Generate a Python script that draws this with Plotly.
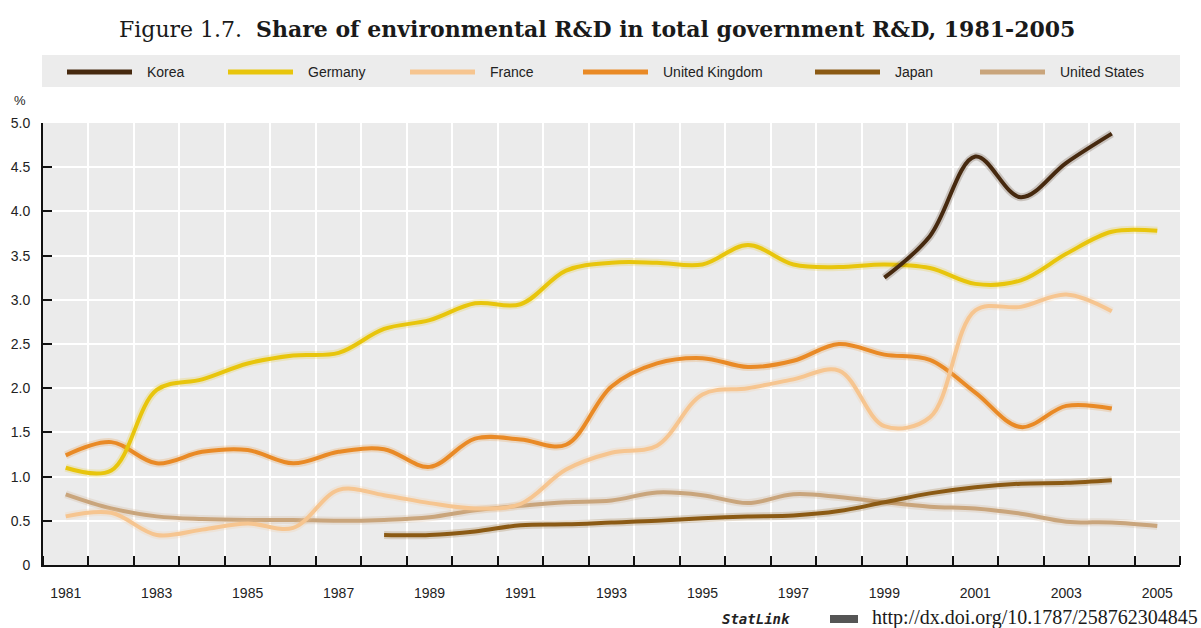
import plotly.graph_objects as go

years = list(range(1981, 2006))

korea = [None]*18 + [3.25, 3.72, 4.62, 4.16, 4.55, 4.88, None]
germany = [1.10, 1.07, 1.98, 2.10, 2.28, 2.37, 2.40, 2.67, 2.77, 2.96, 2.95, 3.33, 3.42, 3.42, 3.40, 3.62, 3.40, 3.37, 3.40, 3.36, 3.18, 3.22, 3.52, 3.77, 3.78]
france = [0.55, 0.59, 0.34, 0.40, 0.47, 0.42, 0.85, 0.79, 0.70, 0.64, 0.69, 1.08, 1.27, 1.35, 1.93, 2.00, 2.10, 2.20, 1.57, 1.67, 2.88, 2.92, 3.06, 2.87, None]
uk = [1.24, 1.39, 1.15, 1.28, 1.30, 1.15, 1.28, 1.31, 1.11, 1.43, 1.42, 1.36, 2.02, 2.28, 2.34, 2.24, 2.31, 2.50, 2.38, 2.32, 1.95, 1.56, 1.80, 1.77, None]
japan = [None]*7 + [0.34, 0.34, 0.38, 0.45, 0.46, 0.48, 0.50, 0.53, 0.55, 0.56, 0.61, 0.71, 0.81, 0.88, 0.92, 0.93, 0.96, None]
us = [0.80, 0.64, 0.55, 0.52, 0.51, 0.51, 0.50, 0.51, 0.54, 0.62, 0.67, 0.71, 0.73, 0.82, 0.79, 0.70, 0.80, 0.77, 0.71, 0.66, 0.64, 0.58, 0.49, 0.48, 0.44]

series_names = ["Korea", "Germany", "France", "United Kingdom", "Japan", "United States"]
series_values = [korea, germany, france, uk, japan, us]
series_colors = ["#46290f", "#e8c50c", "#f6c590", "#e98a26", "#8b5a14", "#c9a57c"]

x_tick_years = list(range(1981, 2006, 2))
y_tick_vals = [0, 0.5, 1.0, 1.5, 2.0, 2.5, 3.0, 3.5, 4.0, 4.5, 5.0]
y_tick_text = ["0", "0.5", "1.0", "1.5", "2.0", "2.5", "3.0", "3.5", "4.0", "4.5", "5.0"]

TEXT_FONT = "Liberation Sans Narrow, Liberation Sans, Arial, sans-serif"
SERIF = "DejaVu Serif, Liberation Serif, serif"

fig = go.Figure()

# draw from last to first so Korea is on top
for name, vals, col in reversed(list(zip(series_names, series_values, series_colors))):
    xs = [y for y, v in zip(years, vals) if v is not None]
    ys = [v for v in vals if v is not None]
    fig.add_trace(go.Scatter(x=xs, y=ys, mode="lines", showlegend=False, hoverinfo="skip",
                             line=dict(color=col, width=8, shape="spline", smoothing=1.0),
                             opacity=0.2))
    fig.add_trace(go.Scatter(x=xs, y=ys, mode="lines", name=name, showlegend=False,
                             line=dict(color=col, width=4, shape="spline", smoothing=1.0)))

L, R, T, B = 43, 21, 123, 63
W, H = 1201, 628
pw = W - L - R
ph = H - T - B

def px_x(px):
    return (px - L) / pw

def px_y(py):
    return (H - B - py) / ph

shapes = []
annotations = []

# legend band
shapes.append(dict(type="rect", xref="paper", yref="paper",
                   x0=px_x(42), x1=px_x(1180), y0=px_y(87), y1=px_y(55),
                   fillcolor="#ececec", line=dict(width=0), layer="below"))
legend_line_x = [67, 228, 410, 583, 815, 980]
for name, col, lx in zip(series_names, series_colors, legend_line_x):
    shapes.append(dict(type="line", xref="paper", yref="paper",
                       x0=px_x(lx), x1=px_x(lx + 65), y0=px_y(72), y1=px_y(72),
                       line=dict(color=col, width=5)))
    annotations.append(dict(xref="paper", yref="paper", x=px_x(lx + 78), y=px_y(72),
                            text=name, showarrow=False, xanchor="left", yanchor="middle",
                            font=dict(family=TEXT_FONT, size=14, color="#222222")))

# title
annotations.append(dict(xref="paper", yref="paper", x=px_x(597), y=px_y(29),
                        text="Figure 1.7.\u00a0 <b>Share of environmental R&amp;D in total government R&amp;D, 1981-2005</b>",
                        showarrow=False, xanchor="center", yanchor="middle",
                        font=dict(family=SERIF, size=22, color="#1a1a1a")))
# % unit
annotations.append(dict(xref="paper", yref="paper", x=px_x(20), y=px_y(101),
                        text="%", showarrow=False, xanchor="center", yanchor="middle",
                        font=dict(family=TEXT_FONT, size=13, color="#222222")))
# statlink
annotations.append(dict(xref="paper", yref="paper", x=px_x(720), y=px_y(619),
                        text="<b><i>StatLink</i></b>", showarrow=False, xanchor="left", yanchor="middle",
                        font=dict(family="DejaVu Sans Mono, Liberation Mono, monospace", size=14, color="#222222")))
shapes.append(dict(type="rect", xref="paper", yref="paper",
                   x0=px_x(830), x1=px_x(858), y0=px_y(623), y1=px_y(615),
                   fillcolor="#555555", line=dict(width=0)))
annotations.append(dict(xref="paper", yref="paper", x=px_x(1200), y=px_y(617),
                        text="http://dx.doi.org/10.1787/258762304845", showarrow=False,
                        xanchor="right", yanchor="middle",
                        font=dict(family="Liberation Serif, serif", size=20, color="#1a1a1a")))

fig.update_layout(
    width=W, height=H,
    margin=dict(l=L, r=R, t=T, b=B, pad=0),
    paper_bgcolor="white", plot_bgcolor="#ebebeb",
    shapes=shapes, annotations=annotations,
    showlegend=False,
    xaxis=dict(range=[1980.5, 2005.5], tickmode="array", tickvals=x_tick_years,
               ticktext=[str(y) for y in x_tick_years], ticks="", showgrid=False,
               showline=True, linecolor="#111111", linewidth=2, zeroline=False,
               ticklabelstandoff=14,
               tickfont=dict(family=TEXT_FONT, size=14, color="#222222"),
               minor=dict(tick0=1980.5, dtick=1, ticks="inside", ticklen=9, tickwidth=2,
                          tickcolor="#111111", showgrid=True, gridcolor="white", gridwidth=2)),
    yaxis=dict(range=[0, 5.0], tickmode="array", tickvals=y_tick_vals, ticktext=y_tick_text,
               ticks="inside", ticklen=9, tickwidth=2, tickcolor="#111111",
               showgrid=True, gridcolor="white", gridwidth=2,
               showline=True, linecolor="#111111", linewidth=2, zeroline=False,
               ticklabelstandoff=8,
               tickfont=dict(family=TEXT_FONT, size=14, color="#222222")),
)

fig.write_html("out.html", config={"displayModeBar": False},
               post_script="document.body.style.margin='0';")
